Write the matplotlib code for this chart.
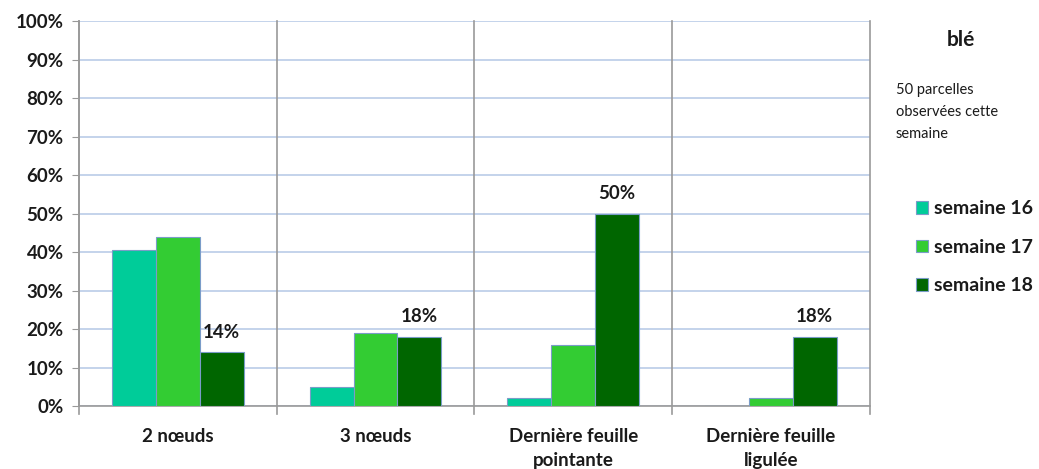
import numpy as np
import matplotlib.pyplot as plt

plt.rcParams['font.family'] = ['Lato', 'DejaVu Sans']

categories = ['2 nœuds', '3 nœuds', 'Dernière feuille\npointante', 'Dernière feuille\nligulée']
series = ['semaine 16', 'semaine 17', 'semaine 18']
s16 = [40.5, 5, 2, 0]
s17 = [44, 19, 16, 2]
s18 = [14, 18, 50, 18]
colors = ['#00CC99', '#33CC33', '#006600']

fig = plt.figure(figsize=(10.39, 4.69), dpi=100)
ax = fig.add_axes([0.076, 0.134, 0.761, 0.821])

x = np.arange(len(categories))
w = 0.222
for i, (vals, c, lab) in enumerate(zip([s16, s17, s18], colors, series)):
    bars = ax.bar(x + (i - 1) * w, vals, w, color=c, edgecolor='#7a9cc8',
                  linewidth=0.8, label=lab, zorder=3)
    if i == 2:
        for b, v in zip(bars, vals):
            ax.text(b.get_x() + b.get_width() / 2, v + 3, f'{v:.0f}%',
                    ha='center', va='bottom', fontsize=13.5, fontweight='bold',
                    color='#1a1a1a')

ax.set_xlim(-0.5, len(categories) - 0.5)
ax.set_ylim(0, 100)
ax.set_yticks(np.arange(0, 101, 10))
ax.set_yticklabels([f'{v}%' for v in range(0, 101, 10)], fontsize=13.5,
                   fontweight='bold', color='#1a1a1a')
ax.yaxis.grid(True, color='#b4c8e6', linewidth=1.1, zorder=0)
ax.set_axisbelow(True)

ax.set_xticks(x)
ax.set_xticklabels(categories, fontsize=13.5, fontweight='bold', color='#1a1a1a',
                   linespacing=1.5)
ax.tick_params(axis='x', length=0, pad=16)
ax.tick_params(axis='y', length=5, color='#999999', direction='out', pad=6)

# category separators
for b in np.arange(-0.5, len(categories), 1.0):
    ax.plot([b, b], [-2, 100], color='#999999', linewidth=1.2,
            clip_on=False, zorder=2)

for s in ['top', 'right']:
    ax.spines[s].set_visible(False)
for s in ['left', 'bottom']:
    ax.spines[s].set_color('#999999')
    ax.spines[s].set_linewidth(1.2)

fig.text(0.925, 0.915, 'blé', ha='center', va='center', fontsize=15,
         fontweight='bold', color='#1a1a1a')
fig.text(0.862, 0.761, '50 parcelles\nobservées cette\nsemaine', ha='left',
         va='center', fontsize=10.5, color='#1a1a1a', linespacing=1.75)

leg = fig.legend(loc='upper left', bbox_to_anchor=(0.865, 0.61), frameon=False,
                 prop={'weight': 'bold', 'size': 14},
                 handlelength=0.6, handleheight=0.6, handletextpad=0.3,
                 labelspacing=1.1)
for t in leg.get_texts():
    t.set_color('#1a1a1a')

fig.savefig('out.png', dpi=100)
